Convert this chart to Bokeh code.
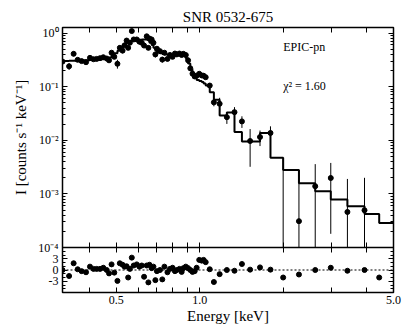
import math
from bokeh.plotting import figure
from bokeh.models import (LogAxis, LinearScale, FixedTicker, Span, Label, Range1d,
                          PrintfTickFormatter, CustomJSTickFormatter)
from bokeh.embed import file_html
from bokeh.resources import INLINE

# ---------------- data ----------------
energy = [0.320, 0.338, 0.351, 0.363, 0.375, 0.389, 0.402, 0.414, 0.425, 0.437,
          0.449, 0.462, 0.471, 0.481, 0.492, 0.505, 0.515, 0.527, 0.536, 0.545,
          0.552, 0.560, 0.569, 0.578, 0.593, 0.606, 0.618, 0.630, 0.644, 0.653,
          0.659, 0.671, 0.681, 0.692, 0.701, 0.719, 0.733, 0.746, 0.765, 0.781,
          0.798, 0.814, 0.827, 0.845, 0.861, 0.873, 0.891, 0.908, 0.925, 0.942,
          0.959, 0.975, 0.996, 1.017, 1.033, 1.051, 1.087, 1.125, 1.180, 1.253,
          1.335, 1.42, 1.52, 1.65, 1.80, 2.00, 2.28, 2.61, 2.97, 3.41,
          3.93, 4.44]
flux = [0.294, 0.24, 0.41, 0.317, 0.30, 0.286, 0.345, 0.325, 0.33, 0.34,
        0.354, 0.335, 0.31, 0.43, 0.36, 0.267, 0.53, 0.47, 0.59, 0.725,
        0.53, 0.66, 1.09, 0.76, 0.76, 0.69, 0.66, 0.585, 0.87, 0.53,
        0.79, 0.76, 0.66, 0.40, 0.51, 0.46, 0.32, 0.43, 0.33, 0.39,
        0.36, 0.415, 0.40, 0.415, 0.39, 0.41, 0.39, 0.31, 0.22, 0.175,
        0.155, 0.16, 0.174, 0.162, 0.16, 0.15, 0.105, 0.051, 0.048, 0.027,
        0.0335, 0.0225, 0.0097, 0.0115, 0.0137, 0.00005, 0.00031, 0.00139, 0.00198, 0.00046,
        0.000495, 0.00005]
flux_err = [0.025, 0.035, 0.04, 0.025, 0.022, 0.022, 0.025, 0.02, 0.02, 0.02,
            0.025, 0.025, 0.03, 0.035, 0.03, 0.05, 0.05, 0.05, 0.05, 0.05,
            0.05, 0.05, 0.07, 0.06, 0.06, 0.05, 0.05, 0.05, 0.06, 0.05,
            0.06, 0.06, 0.05, 0.05, 0.05, 0.04, 0.04, 0.035, 0.03, 0.03,
            0.03, 0.03, 0.03, 0.03, 0.03, 0.03, 0.03, 0.03, 0.025, 0.02,
            0.015, 0.015, 0.012, 0.012, 0.012, 0.012, 0.012, 0.008, 0.014, 0.0068,
            0.008, 0.0055, 0.0065, 0.0037, 0.0045, 0.0045, 0.0025, 0.0022, 0.0018, 0.00144,
            0.0015, 0.00003]
residual = [0.0, -1.6, 1.8, 0.2, -0.3, -0.6, 0.9, 0.3, 0.3, 0.3,
            0.6, 0.0, -0.9, 1.5, -0.7, -2.9, 1.8, 1.4, 0.9, 1.0,
            -2.0, 0.3, 3.3, 1.2, 1.5, 0.9, 1.2, -1.8, 1.2, -3.3,
            1.4, 0.5, 0.9, -2.7, -0.3, 0.0, -2.5, 0.9, -0.6, 0.3,
            0.6, -0.3, 0.0, 0.3, -0.5, 0.5, 0.9, 0.5, 0.0, -0.5,
            -0.3, 0.6, 2.7, 2.5, 2.7, 2.1, 0.2, -3.2, -1.1, 0.0,
            -0.2, 1.6, 0.1, 0.7, 0.1, -2.0, -1.2, 0.0, 0.6, -0.2,
            0.0, -2.0]
# model, drawn as steps ending at each data energy, plus the final bin to 5 keV
model_energy = energy + [5.0]
model_flux = [0.30, 0.30, 0.305, 0.305, 0.31, 0.31, 0.31, 0.315, 0.315, 0.32,
              0.325, 0.33, 0.34, 0.35, 0.38, 0.42, 0.47, 0.55, 0.60, 0.64,
              0.665, 0.69, 0.71, 0.73, 0.74, 0.745, 0.75, 0.755, 0.76, 0.75,
              0.72, 0.66, 0.60, 0.53, 0.48, 0.44, 0.42, 0.405, 0.40, 0.40,
              0.40, 0.40, 0.40, 0.40, 0.40, 0.40, 0.39, 0.34, 0.27, 0.21,
              0.165, 0.145, 0.133, 0.127, 0.122, 0.115, 0.105, 0.079, 0.057, 0.029,
              0.033, 0.0142, 0.0095, 0.0095, 0.0137, 0.0047, 0.0028, 0.00158, 0.00112, 0.00079,
              0.00059, 0.00042, 0.000285]

x_major = [0.5, 1.0, 5.0]
x_minor = [0.4, 0.6, 0.7, 0.8, 0.9, 2.0, 3.0, 4.0]
y_decades = [1e-4, 1e-3, 1e-2, 1e-1, 1.0]
y_decade_labels = ["10⁻⁴", "10⁻³", "10⁻²", "10⁻¹", "10⁰"]
res_major = [-3, 0, 3]
res_major_labels = ["-3", "0", "3"]
res_minor = [-5, -4, -2, -1, 1, 2, 4, 5]

title_text = "SNR 0532-675"
instrument_text = "EPIC-pn"
chi_text = "χ² = 1.60"
y_label = "I [counts s⁻¹ keV⁻¹]"
x_label = "Energy [keV]"

X_START, X_END = 0.32, 5.0
Y_START, Y_END = 1e-4, 1.27
R_START, R_END = -6.0, 6.0

FONT = "Liberation Serif"

# ---------------- layout geometry (pixels) ----------------
W, H = 415, 332
B_LEFT, B_RIGHT, B_TOP, B_BOTTOM = 62, 22, 27, 40
MAIN_H, RES_H = 220, 45
frame_h = MAIN_H + RES_H

# main log range extended downwards so the residual strip lies below 1e-4
span_dec = math.log10(Y_END) - math.log10(Y_START)
y_lo_ext = 10 ** (math.log10(Y_START) - span_dec * RES_H / MAIN_H)
# residual linear range stretched upwards over the whole frame
r_hi_ext = R_START + (R_END - R_START) * frame_h / RES_H


def res_to_main(r):
    """position of a residual value expressed on the main (log) axis"""
    f = (r - R_START) / (r_hi_ext - R_START)
    lo, hi = math.log10(y_lo_ext), math.log10(Y_END)
    return 10 ** (lo + f * (hi - lo))


n = len(energy)
main_idx = [i for i in range(n) if flux[i] >= Y_START]
seg_idx = [i for i in range(n) if flux[i] + flux_err[i] > Y_START]
pt_x = [energy[i] for i in main_idx]
pt_y = [flux[i] for i in main_idx]
sg_x = [energy[i] for i in seg_idx]
sg_lo = [max(flux[i] - flux_err[i], Y_START) for i in seg_idx]
sg_hi = [flux[i] + flux_err[i] for i in seg_idx]

y_minor = [k * d for d in y_decades[:-1] for k in range(2, 10)]
res_major_pos = [res_to_main(r) for r in res_major]
res_minor_pos = [res_to_main(r) for r in res_minor]

left_ticks = y_decades + res_major_pos
left_minor = y_minor + res_minor_pos
left_labels = dict(zip(y_decades, y_decade_labels))
left_labels.update(dict(zip(res_major_pos, res_major_labels)))

blank = CustomJSTickFormatter(code="return ''")


def style_axis(ax, major_in, minor_in, label_px="12px"):
    ax.major_tick_in = major_in
    ax.major_tick_out = 0
    ax.minor_tick_in = minor_in
    ax.minor_tick_out = 0
    ax.axis_line_color = None
    ax.major_tick_line_color = "black"
    ax.minor_tick_line_color = "black"
    ax.major_tick_line_width = 1
    ax.minor_tick_line_width = 1
    ax.major_label_text_font = FONT
    ax.major_label_text_font_size = label_px
    ax.major_label_text_font_style = "normal"
    ax.major_label_text_color = "black"
    ax.axis_label_text_font = FONT
    ax.axis_label_text_font_size = "15px"
    ax.axis_label_text_font_style = "normal"
    ax.axis_label_text_color = "black"


p = figure(width=W, height=H, x_axis_type="log", y_axis_type="log",
           x_range=Range1d(X_START, X_END), y_range=Range1d(y_lo_ext, Y_END),
           output_backend="svg", toolbar_location=None,
           min_border_left=B_LEFT, min_border_right=B_RIGHT,
           min_border_top=B_TOP, min_border_bottom=B_BOTTOM,
           title=title_text)
p.extra_y_ranges = {"res": Range1d(R_START, r_hi_ext)}
p.extra_y_scales = {"res": LinearScale()}
p.title.align = "center"
p.title.text_font = FONT
p.title.text_font_size = "15px"
p.title.text_font_style = "normal"
p.title.text_color = "black"
p.title.standoff = 5
p.grid.visible = False
p.outline_line_color = "black"
p.outline_line_width = 1.5
p.background_fill_color = "white"
p.border_fill_color = "white"

xt = FixedTicker(ticks=x_major, minor_ticks=x_minor)
yt = FixedTicker(ticks=left_ticks, minor_ticks=left_minor)

# bottom axis with labels
bx = p.xaxis[0]
bx.ticker = xt
bx.formatter = PrintfTickFormatter(format="%.1f")
bx.axis_label = x_label
bx.major_label_standoff = 3
bx.axis_label_standoff = 1
style_axis(bx, 5, 5, "12px")

# single left axis carrying both panels' ticks and the (padded) y label
ly = p.yaxis[0]
ly.ticker = yt
ly.formatter = blank
ly.major_label_overrides = left_labels
ly.major_label_standoff = 4
ly.axis_label_standoff = 6
ly.axis_label = "\u2003\u2003\u2003" + y_label
style_axis(ly, 5, 3, "12px")

# mirrored / separator tick axes without labels
for loc, side in [(Y_END, "above"), (Y_START, "below"), (Y_START, "above")]:
    a = LogAxis(ticker=xt, formatter=blank, fixed_location=loc)
    style_axis(a, 5, 5)
    p.add_layout(a, side)
ra = LogAxis(ticker=yt, formatter=blank)
ra.major_label_standoff = 0
style_axis(ra, 5, 3)
p.add_layout(ra, "right")

# panel separator and residual zero line
p.add_layout(Span(location=Y_START, dimension="width", line_color="black", line_width=1.5))
p.add_layout(Span(location=0, dimension="width", y_range_name="res", line_color="black",
                  line_dash="2 2", line_width=1.2))

# spectrum
p.segment(x0=sg_x, y0=sg_lo, x1=sg_x, y1=sg_hi, line_color="black", line_width=1)
p.step(x=model_energy, y=model_flux, mode="before", line_color="black", line_width=2)
p.scatter(x=pt_x, y=pt_y, size=5, color="black")

# residuals
p.scatter(x=energy, y=residual, size=5, color="black", y_range_name="res")

# texts
p.add_layout(Label(x=2.0, y=0.544, text=instrument_text, text_font=FONT,
                   text_font_size="12px", text_baseline="middle", text_color="black"))
p.add_layout(Label(x=2.0, y=0.105, text=chi_text, text_font=FONT,
                   text_font_size="12px", text_baseline="middle", text_color="black"))

open("out.html", "w").write(file_html(p, INLINE))
